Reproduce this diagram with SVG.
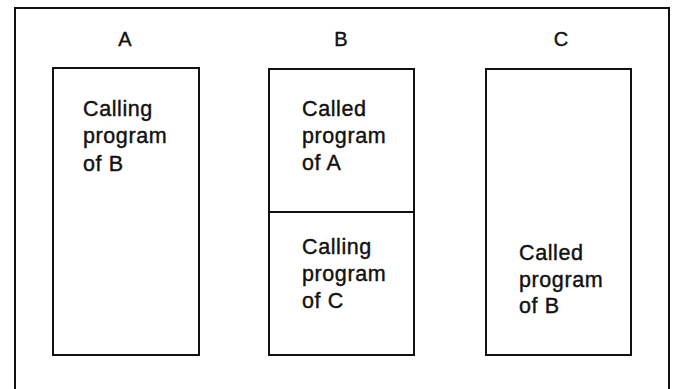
<svg xmlns="http://www.w3.org/2000/svg" width="674" height="389" viewBox="0 0 674 389">
  <style>
    .box { fill: none; stroke: #111; stroke-width: 2; }
    .frame { fill: none; stroke: #111; stroke-width: 2; }
    .title { font-family: "Liberation Sans", Arial, sans-serif; font-size: 20px; fill: #111; stroke: #111; stroke-width: 0.4; text-anchor: middle; }
    .body { font-family: "Liberation Sans", Arial, sans-serif; font-size: 21.5px; fill: #111; stroke: #111; stroke-width: 0.4; letter-spacing: 0.6px; }
  </style>
  <rect width="674" height="389" fill="#fff"/>

  <!-- outer frame, open at the bottom -->
  <path class="frame" d="M15,389 V8 H669 V389"/>

  <g id="A">
    <text class="title" x="125" y="46">A</text>
    <rect class="box" x="53" y="68" width="146" height="287"/>
    <text class="body" x="83" y="116">Calling</text>
    <text class="body" x="83" y="143">program</text>
    <text class="body" x="83" y="171">of B</text>
  </g>

  <g id="B">
    <text class="title" x="341" y="46">B</text>
    <rect class="box" x="269" y="69" width="145" height="286"/>
    <line class="box" x1="269" y1="212" x2="414" y2="212"/>
    <text class="body" x="302" y="116">Called</text>
    <text class="body" x="302" y="143">program</text>
    <text class="body" x="302" y="170">of A</text>
    <text class="body" x="302" y="254">Calling</text>
    <text class="body" x="302" y="281">program</text>
    <text class="body" x="302" y="308">of C</text>
  </g>

  <g id="C">
    <text class="title" x="561" y="46">C</text>
    <rect class="box" x="486" y="69" width="145" height="286"/>
    <text class="body" x="519" y="260">Called</text>
    <text class="body" x="519" y="287">program</text>
    <text class="body" x="519" y="313">of B</text>
  </g>

  <g id="connectors"></g>
</svg>
